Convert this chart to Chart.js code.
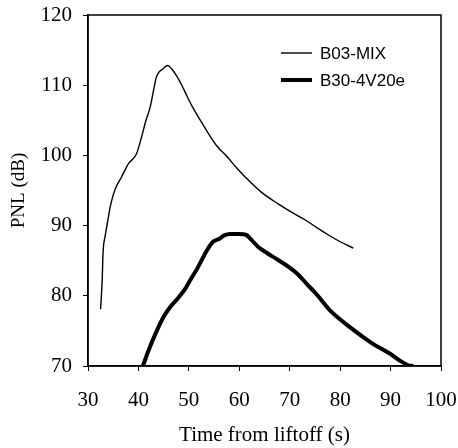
<!DOCTYPE html>
<html>
<head>
<meta charset="utf-8">
<script src="https://cdn.jsdelivr.net/npm/chart.js@4/dist/chart.umd.min.js"></script>
<style>
  html, body { margin: 0; padding: 0; background: #fff; }
  #wrap { width: 458px; height: 448px; }
</style>
</head>
<body>
<div id="wrap"><canvas id="pnlChart"></canvas></div>
<script>
// series names
const seriesNames = ['B03-MIX', 'B30-4V20e'];

// B03-MIX (thin line)
const mixTime = [32.5, 32.8, 33.0, 33.4, 33.8, 34.5, 35.4, 36.7, 38.0, 39.6, 40.5, 41.5, 42.3, 42.9, 43.5, 44.0, 44.8, 45.8, 46.6, 47.6, 48.6, 49.6, 50.8, 52.2, 53.8, 55.6, 57.6, 59.5, 61.2, 64.3, 67.7, 71.1, 73.1, 75.6, 77.6, 80.0, 82.6];
const mixPnl = [78.1, 82.0, 86.3, 88.5, 90.2, 93.0, 95.2, 97.0, 98.8, 100.2, 102.3, 105.0, 106.8, 108.9, 111.0, 111.8, 112.3, 112.8, 112.3, 111.3, 110.0, 108.5, 106.8, 105.1, 103.2, 101.3, 99.8, 98.2, 96.9, 94.8, 93.1, 91.6, 90.8, 89.6, 88.7, 87.7, 86.8];

// B30-4V20e (thick line)
const v20eTime = [40.9, 42.0, 43.7, 45.0, 46.3, 48.0, 49.2, 50.5, 51.6, 53.6, 54.8, 56.0, 57.0, 58.2, 60.0, 61.3, 62.5, 63.7, 65.5, 67.7, 70.0, 71.7, 73.5, 75.1, 78.3, 82.2, 86.2, 90.2, 92.0, 93.5, 94.5];
const v20ePnl = [70.0, 72.2, 75.1, 77.0, 78.4, 79.8, 80.9, 82.5, 83.8, 86.5, 87.7, 88.1, 88.6, 88.8, 88.8, 88.7, 87.9, 87.0, 86.1, 85.1, 84.0, 83.0, 81.6, 80.4, 77.7, 75.4, 73.3, 71.6, 70.7, 70.1, 70.0];

// axis ranges
const xTicks = [30, 40, 50, 60, 70, 80, 90, 100];
const yTicks = [70, 80, 90, 100, 110, 120];

const toPoints = (xs, ys) => xs.map((x, i) => ({ x: x, y: ys[i] }));

const serif = '"Liberation Serif", "Times New Roman", serif';
const sans = '"Liberation Sans", Arial, sans-serif';

// box around the plot + legend inside the plot
const boxAndLegend = {
    id: 'boxAndLegend',
    afterDraw(chart) {
        const ctx = chart.ctx;
        const a = chart.chartArea;
        ctx.save();
        ctx.strokeStyle = '#000';
        ctx.lineWidth = 1.5;
        ctx.strokeRect(a.left, a.top, a.right - a.left, a.bottom - a.top);

        ctx.font = '17px ' + sans;
        ctx.textBaseline = 'middle';
        ctx.fillStyle = '#000';
        chart.data.datasets.forEach((ds, i) => {
            const y = 53 + i * 27;
            ctx.lineWidth = ds.borderWidth;
            ctx.beginPath();
            ctx.moveTo(281, y);
            ctx.lineTo(312, y);
            ctx.stroke();
            ctx.fillText(ds.label, 320, y + 1);
        });
        ctx.restore();
    }
};

const ctx = document.getElementById('pnlChart').getContext('2d');
new Chart(ctx, {
    type: 'line',
    data: {
        datasets: [{
            label: seriesNames[0],
            data: toPoints(mixTime, mixPnl),
            borderColor: '#000',
            borderWidth: 1.4,
            pointRadius: 0,
            cubicInterpolationMode: 'monotone',
            fill: false
        }, {
            label: seriesNames[1],
            data: toPoints(v20eTime, v20ePnl),
            borderColor: '#000',
            borderWidth: 4,
            pointRadius: 0,
            cubicInterpolationMode: 'monotone',
            fill: false
        }]
    },
    options: {
        responsive: true,
        maintainAspectRatio: false,
        animation: false,
        layout: { padding: { left: 0, right: 17, top: 15, bottom: 0 } },
        plugins: {
            legend: { display: false },
            tooltip: { enabled: false }
        },
        scales: {
            x: {
                type: 'linear',
                min: xTicks[0],
                max: xTicks[xTicks.length - 1],
                afterFit: (scale) => {
                    scale.height = 82;
                    scale.paddingLeft = 0;
                    scale.paddingRight = 0;
                },
                afterBuildTicks: (scale) => { scale.ticks = xTicks.map(v => ({ value: v })); },
                grid: { display: true, drawOnChartArea: false, drawTicks: true, tickLength: 5, color: '#000', lineWidth: 1 },
                border: { display: true, color: '#000', width: 1.5 },
                ticks: { color: '#000', font: { family: serif, size: 21 }, padding: 17, maxRotation: 0 },
                title: {
                    display: true,
                    text: 'Time from liftoff (s)',
                    color: '#000',
                    font: { family: serif, size: 21 },
                    padding: { top: 3, bottom: 0 }
                }
            },
            y: {
                min: yTicks[0],
                max: yTicks[yTicks.length - 1],
                afterFit: (scale) => {
                    scale.width = 88;
                    scale.paddingTop = 0;
                    scale.paddingBottom = 0;
                },
                afterBuildTicks: (scale) => { scale.ticks = yTicks.map(v => ({ value: v })); },
                grid: { display: true, drawOnChartArea: false, drawTicks: true, tickLength: 5, color: '#000', lineWidth: 1 },
                border: { display: true, color: '#000', width: 1.5 },
                ticks: { color: '#000', font: { family: serif, size: 21 }, padding: 11 },
                title: {
                    display: true,
                    text: 'PNL (dB)',
                    color: '#000',
                    font: { family: serif, size: 19 },
                    padding: { top: 8, bottom: 0 }
                }
            }
        }
    },
    plugins: [boxAndLegend]
});
</script>
</body>
</html>
